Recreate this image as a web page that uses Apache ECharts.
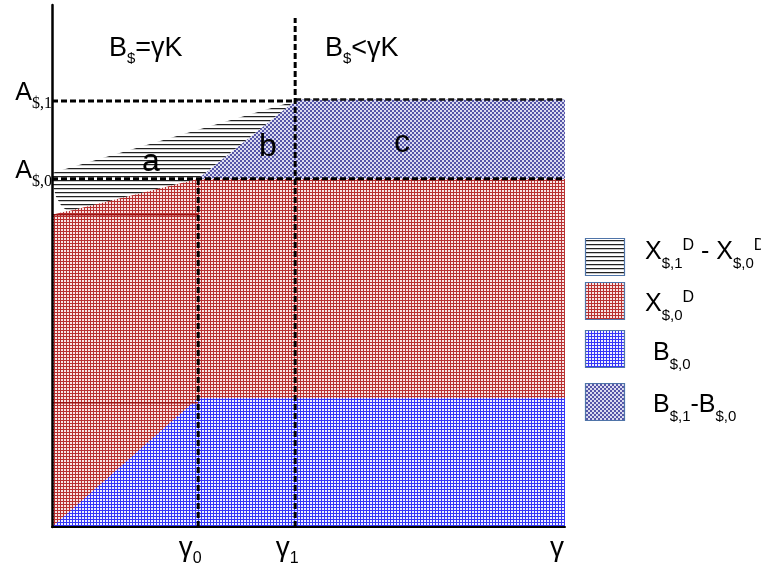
<!DOCTYPE html>
<html><head><meta charset="utf-8">
<script src="https://cdn.jsdelivr.net/npm/echarts@6/dist/echarts.min.js"></script>
<style>html,body{margin:0;padding:0;background:#fff}#c{width:761px;height:574px}</style>
</head><body><div id="c"></div><script>
// ---- data (axis units: x 0..100, y 0..100) ----
const XMAX = 100, YMAX = 100;
const Y0 = 28.5, Y1 = 47.4;
const A0 = 66.7, A1 = 81.6, C_TOP = 81.9;
const Y1_LINE_TOP = 97.5;

const redX = [0, 0, Y0, XMAX, XMAX];
const redY = [0, 59.8, A0, A0, 0];
const blueX = [0, Y0, XMAX, XMAX];
const blueY = [0, 24.7, 24.7, 0];
const hatchX = [0, Y1, Y0, 3.1, 1.9, 0.8, 0];
const hatchY = [67.8, A1, A0, 60.5, 61.4, 63.2, 66.1];
const bX = [Y0, Y1, Y1];
const bY = [A0, A1, A0];
const cX = [Y1, Y1, XMAX, XMAX];
const cY = [A0, C_TOP, C_TOP, A0];
const redLineYs = [59.8, 23.8];

const xTickValues = [Y0, Y1, XMAX];
const xTickMain = ['γ', 'γ', 'γ'];
const xTickSub = ['0', '1', ''];
const yTickValues = [A1, A0];
const yTickMain = ['A', 'A'];
const yTickSub = ['$,1', '$,0'];

const legendLabels = [
  [['X','m'],['$,1','sub'],['D','sup'],[' - ','m'],['X','m'],['$,0','sub'],['D','sup']],
  [['X','m'],['$,0','sub'],['D','sup']],
  [['B','m'],['$,0','sub']],
  [['B','m'],['$,1','sub'],['-','m'],['B','m'],['$,0','sub']]
];
const regionLetters = ['a', 'b', 'c'];
const titleLeft = [['B','m'],['$','sub'],['=γK','m']];
const titleRight = [['B','m'],['$','sub'],['<γK','m']];

// ---- patterns ----
function tile(w, h, fn) {
  const c = document.createElement('canvas'); c.width = w; c.height = h;
  fn(c.getContext('2d')); return { image: c, repeat: 'repeat' };
}
const RED = tile(3, 3, g => { g.fillStyle = '#f8e4e4'; g.fillRect(0,0,3,3); g.fillStyle = '#b83030'; g.fillRect(0,0,3,1); g.fillRect(0,0,1,3); });
const BLUE = tile(3, 3, g => { g.fillStyle = '#eef0ff'; g.fillRect(0,0,3,3); g.fillStyle = '#3535f8'; g.fillRect(0,0,3,1); g.fillRect(0,0,1,3); });
const PURPLE = tile(4, 4, g => { g.fillStyle = '#dcdcf0'; g.fillRect(0,0,4,4); g.fillStyle = '#5656a8'; g.fillRect(0,0,2,2); g.fillRect(2,2,2,2); });
const HATCH = tile(4, 4, g => { g.fillStyle = '#ffffff'; g.fillRect(0,0,4,4); g.fillStyle = '#222'; g.fillRect(0,0,4,1); g.fillStyle = '#c8c8c8'; g.fillRect(0,1,4,1); });

function poly(xs, ys, fill, z) {
  const pts = xs.map((x, i) => [x, ys[i]]);
  return { type: 'custom', coordinateSystem: 'cartesian2d', data: pts, z, silent: true, clip: false,
    encode: { x: 0, y: 1 },
    renderItem(params, api) {
      if (params.dataIndex !== 0) return null;
      return { type: 'polygon', shape: { points: pts.map(p => api.coord(p)) }, style: { fill, stroke: null } };
    } };
}
function seg(xs, ys, color, width, type, z) {
  return { type: 'line', data: xs.map((x, i) => [x, ys[i]]), symbol: 'none', silent: true,
    lineStyle: { color, width, type }, z };
}

const chart = echarts.init(document.getElementById('c'), null, { renderer: 'canvas' });
const axisCommon = { type: 'value', min: 0, axisTick: { show: false }, axisLabel: { show: false },
  splitLine: { show: false }, z: 10 };
chart.setOption({
  animation: false,
  grid: { left: 52, right: 196, top: 5, bottom: 47 },
  xAxis: Object.assign({}, axisCommon, { max: XMAX, axisLine: { show: true, onZero: false, lineStyle: { color: '#000', width: 2 } } }),
  yAxis: Object.assign({}, axisCommon, { max: YMAX, axisLine: { show: true, onZero: false, lineStyle: { color: '#000', width: 2.5 } } }),
  series: [
    poly(redX, redY, RED, 1),
    poly(blueX, blueY, BLUE, 2),
    poly(hatchX, hatchY, HATCH, 2),
    poly(bX, bY, PURPLE, 3),
    poly(cX, cY, PURPLE, 3),
    seg([0, Y0], [redLineYs[0], redLineYs[0]], '#9c1414', 1.5, 'solid', 4),
    seg([0, Y0], [redLineYs[1], redLineYs[1]], '#9c1414', 1.5, 'solid', 4),
    seg([0, Y1], [A1, A1], '#000', 3, [6, 3], 6),
    seg([Y1, XMAX], [C_TOP, C_TOP], '#111', 2.5, [6, 3], 6),
    seg([0, XMAX], [A0, A0], '#000', 3, [6, 3], 6),
    seg([Y0, Y0], [0, A0], '#000', 3, [6, 3], 6),
    seg([Y1, Y1], [0, Y1_LINE_TOP], '#000', 3, [6, 3], 6)
  ]
});

// ---- text helpers ----
const meas = document.createElement('canvas').getContext('2d');
const SANS = '"Liberation Sans", Arial, sans-serif';
const SERIF = '"Liberation Serif", "Times New Roman", serif';
function tw(t, size, fam) { meas.font = size + 'px ' + fam; return meas.measureText(t).width; }
function richWidth(parts, sz) {
  return parts.reduce((s, [t, r]) => s + tw(t, sz[r].size, sz[r].fam), 0);
}
function richEls(x, base, parts, sz) {
  const els = []; let cx = x;
  for (const [t, r] of parts) {
    const s = sz[r];
    els.push({ type: 'text', x: cx, y: base + s.dy - 0.31 * s.size, silent: true, z: 100,
      style: { text: t, font: s.size + 'px ' + s.fam, fill: '#000', textAlign: 'left', textVerticalAlign: 'middle' } });
    cx += tw(t, s.size, s.fam);
  }
  return els;
}
const titleSz = { m: { size: 27, fam: SANS, dy: 0 }, sub: { size: 15, fam: SANS, dy: 7 } };
const xSz = { m: { size: 28, fam: SANS, dy: 0 }, sub: { size: 16, fam: SANS, dy: 7 } };
const ySz = { m: { size: 25, fam: SANS, dy: 0 }, sub: { size: 16, fam: SERIF, dy: 8 } };
const legSz = { m: { size: 25, fam: SANS, dy: 0 }, sub: { size: 15, fam: SANS, dy: 9 }, sup: { size: 16, fam: SANS, dy: -9 } };

const g = [];
g.push(...richEls(109, 57, titleLeft, titleSz));
g.push(...richEls(325, 57, titleRight, titleSz));
xTickValues.forEach((v, i) => {
  const px = chart.convertToPixel({ xAxisIndex: 0 }, v);
  const parts = [[xTickMain[i], 'm']]; if (xTickSub[i]) parts.push([xTickSub[i], 'sub']);
  const w = richWidth(parts, xSz);
  g.push(...richEls(px - 8 - w / 2, 557, parts, xSz));
});
yTickValues.forEach((v, i) => {
  const py = chart.convertToPixel({ yAxisIndex: 0 }, v);
  const parts = [[yTickMain[i], 'm'], [yTickSub[i], 'sub']];
  const w = richWidth(parts, ySz);
  g.push(...richEls(52 - w, py, parts, ySz));
});
// region letters
const letterPos = [[151, 172], [268, 157], [402, 153]];
regionLetters.forEach((t, i) => {
  g.push({ type: 'text', x: letterPos[i][0], y: letterPos[i][1] - 0.31 * 32, silent: true, z: 100,
    style: { text: t, font: '32px ' + SANS, fill: '#000', textAlign: 'center', textVerticalAlign: 'middle' } });
});
// legend
const legFills = [HATCH, RED, BLUE, PURPLE];
const legBoxY = [238, 282, 330, 383];
const legTextX = [645, 645, 653, 653];
const legBase = [260, 312, 361, 413];
legFills.forEach((f, i) => {
  g.push({ type: 'rect', shape: { x: 585.5, y: legBoxY[i] + 0.5, width: 39, height: 37 }, silent: true, z: 100,
    style: { fill: f, stroke: '#4f74a8', lineWidth: 1.2 } });
  g.push(...richEls(legTextX[i], legBase[i], legendLabels[i], legSz));
});
chart.setOption({ graphic: g });
</script></body></html>
